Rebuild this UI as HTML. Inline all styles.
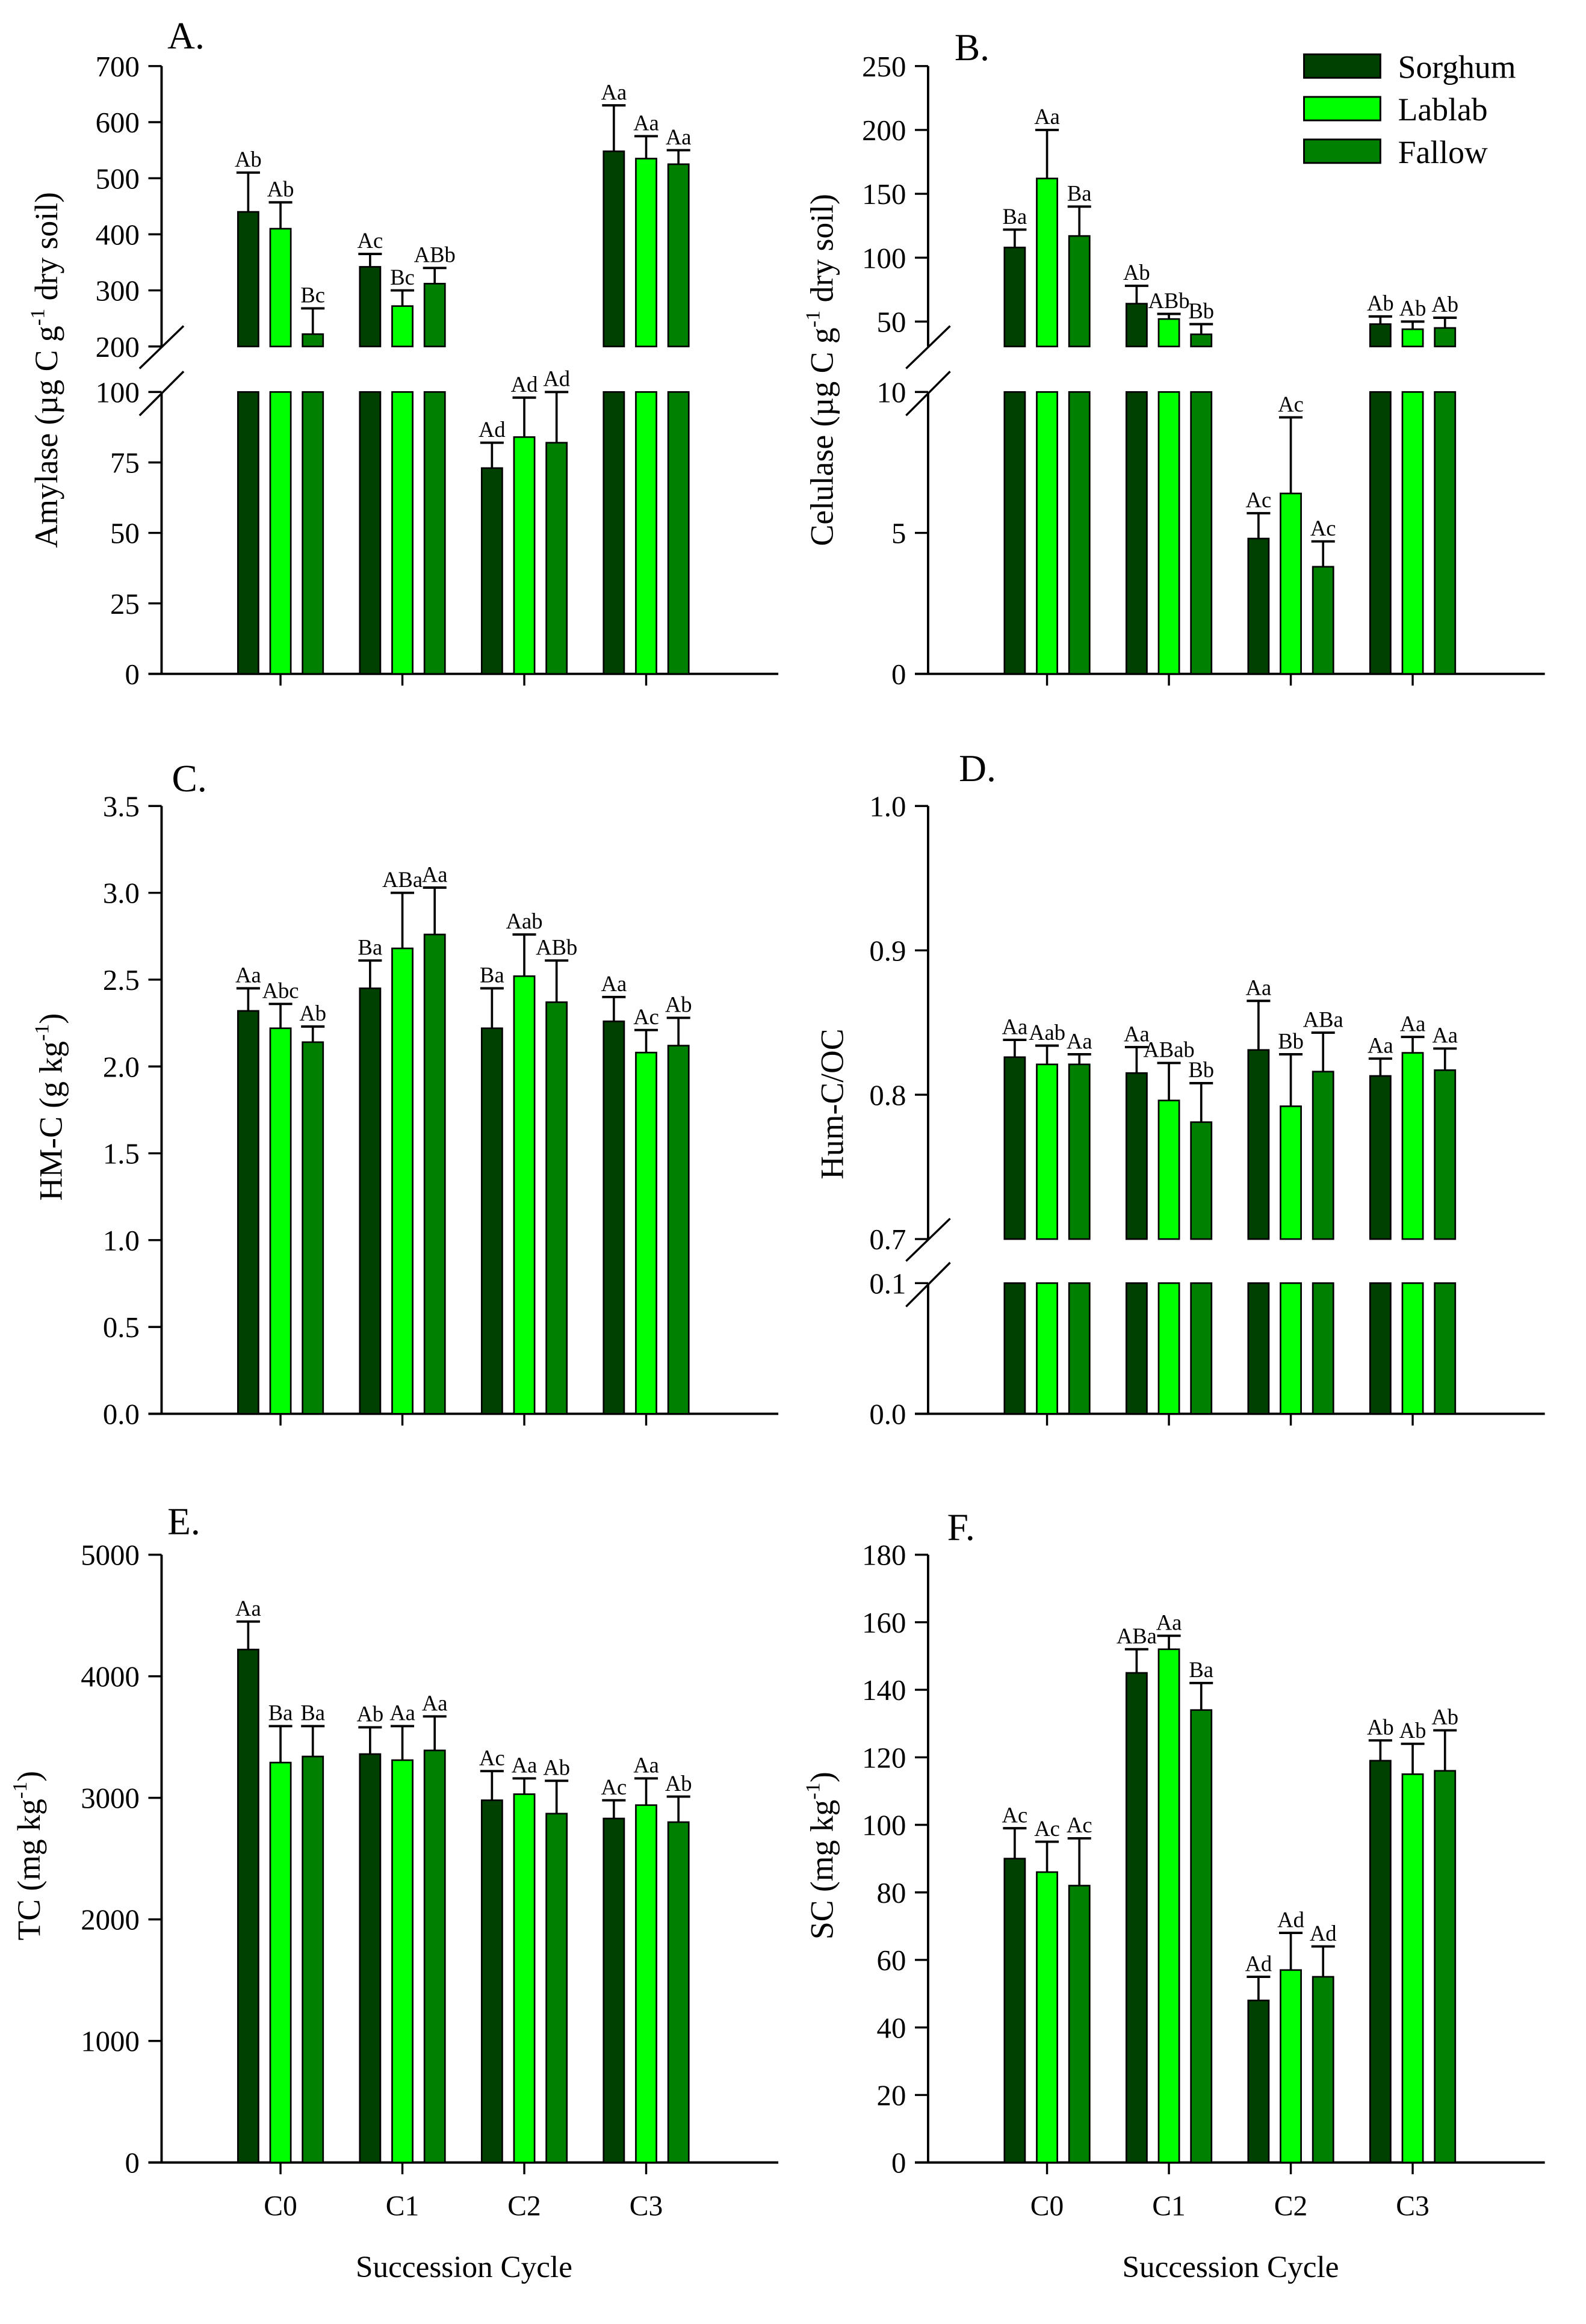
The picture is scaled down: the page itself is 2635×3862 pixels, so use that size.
<!DOCTYPE html>
<html><head><meta charset="utf-8"><style>
html,body{margin:0;padding:0;background:#fff;}
svg{display:block;font-family:"Liberation Serif",serif;}
</style></head><body>
<svg id="fig" xmlns="http://www.w3.org/2000/svg" width="2635" height="3862" viewBox="0 0 1080 1583">
<rect x="0" y="0" width="1080" height="1583" fill="#fff"/>
<g id="legend" font-size="22">
<rect x="888" y="37" width="52" height="16" fill="#004000" stroke="#000" stroke-width="1.2"/>
<text x="952" y="53">Sorghum</text>
<rect x="888" y="66" width="52" height="16" fill="#00ff00" stroke="#000" stroke-width="1.2"/>
<text x="952" y="82">Lablab</text>
<rect x="888" y="95" width="52" height="16" fill="#008000" stroke="#000" stroke-width="1.2"/>
<text x="952" y="111">Fallow</text>
</g>
</svg>
<script>
const categories = ["C0","C1","C2","C3"];
const colors = ["#004000","#00ff00","#008000"];
const seriesNames = ["sorghum","lablab","fallow"];
// Panel A
const aSorghum = [440,342,73,548];
const aLablab = [410,272,84,535];
const aFallow = [222,312,82,525];
const aErrTop = [[510,457,268],[365,300,340],[82,98,100],[630,575,550]];
const aLabels = [["Ab","Ab","Bc"],["Ac","Bc","ABb"],["Ad","Ad","Ad"],["Aa","Aa","Aa"]];
// Panel B
const bSorghum = [108,64,4.8,48];
const bLablab = [162,52,6.4,44];
const bFallow = [117,40,3.8,45];
const bErrTop = [[122,200,140],[78,56,48],[5.7,9.1,4.7],[54,50,53]];
const bLabels = [["Ba","Aa","Ba"],["Ab","ABb","Bb"],["Ac","Ac","Ac"],["Ab","Ab","Ab"]];
// Panel C
const cSorghum = [2.32,2.45,2.22,2.26];
const cLablab = [2.22,2.68,2.52,2.08];
const cFallow = [2.14,2.76,2.37,2.12];
const cErrTop = [[2.45,2.36,2.23],[2.61,3.0,3.03],[2.45,2.76,2.61],[2.40,2.21,2.28]];
const cLabels = [["Aa","Abc","Ab"],["Ba","ABa","Aa"],["Ba","Aab","ABb"],["Aa","Ac","Ab"]];
// Panel D
const dSorghum = [0.826,0.815,0.831,0.813];
const dLablab = [0.821,0.796,0.792,0.829];
const dFallow = [0.821,0.781,0.816,0.817];
const dErrTop = [[0.838,0.834,0.828],[0.833,0.822,0.808],[0.865,0.828,0.843],[0.825,0.840,0.832]];
const dLabels = [["Aa","Aab","Aa"],["Aa","ABab","Bb"],["Aa","Bb","ABa"],["Aa","Aa","Aa"]];
// Panel E
const eSorghum = [4220,3360,2980,2830];
const eLablab = [3290,3310,3030,2940];
const eFallow = [3340,3390,2870,2800];
const eErrTop = [[4450,3590,3590],[3580,3590,3670],[3220,3160,3140],[2980,3160,3010]];
const eLabels = [["Aa","Ba","Ba"],["Ab","Aa","Aa"],["Ac","Aa","Ab"],["Ac","Aa","Ab"]];
// Panel F
const fSorghum = [90,145,48,119];
const fLablab = [86,152,57,115];
const fFallow = [82,134,55,116];
const fErrTop = [[99,95,96],[152,156,142],[55,68,64],[125,124,128]];
const fLabels = [["Ac","Ac","Ac"],["ABa","Aa","Ba"],["Ad","Ad","Ad"],["Ab","Ab","Ab"]];
// Tick labels
const aTicksLow = [0,25,50,75,100];
const aTicksHigh = [200,300,400,500,600,700];
const bTicksLow = [0,5,10];
const bTicksHigh = [50,100,150,200,250];
const cTicks = [0,0.5,1.0,1.5,2.0,2.5,3.0,3.5];
const dTicksLow = [0.0,0.1];
const dTicksHigh = [0.7,0.8,0.9,1.0];
const eTicks = [0,1000,2000,3000,4000,5000];
const fTicks = [0,20,40,60,80,100,120,140,160,180];

const NS="http://www.w3.org/2000/svg";
const svg=document.getElementById('fig');
function el(tag,attrs,parent){const e=document.createElementNS(NS,tag);for(const k in attrs)e.setAttribute(k,attrs[k]);(parent||svg).appendChild(e);return e;}

function panel(cfg){
  const g=el('g',{});
  
  
  const ax=cfg.ax, xEnd=cfg.ax+420;
  const catX=i=>ax+81+i*83;
  function segOf(v){for(const s of cfg.segs){if(v>=s.lo-1e-9&&v<=s.hi+1e-9)return s;}return null;}
  const mapS=(s,v)=>s.y0+(v-s.lo)/(s.hi-s.lo)*(s.y1-s.y0);
  cfg.segs.forEach((s,si)=>{
    const ln=el('line',{x1:ax,x2:ax,y1:s.y0,y2:s.y1,stroke:'#000','stroke-width':1.6},g);
    
    
    s.ticks.forEach(t=>{
      const y=mapS(s,t);
      el('line',{x1:ax-9,x2:ax,y1:y,y2:y,stroke:'#000','stroke-width':1.4},g);
      const tx=el('text',{x:ax-15,y:y+7,'font-size':20,'text-anchor':'end'},g);
      tx.textContent=cfg.fmt(t);
      
      
    });
  });
  if(cfg.segs.length>1){
    const lowTop=cfg.segs[0].y1, hiBot=cfg.segs[1].y0;
    [[lowTop+16,lowTop-14],[hiBot+15,hiBot-14]].forEach(p=>{
      const sl=el('line',{x1:ax-15,y1:p[0],x2:ax+15,y2:p[1],stroke:'#000','stroke-width':1.4},g);
      
      
    });
  }
  const y0=cfg.segs[0].y0;
  const xa=el('line',{x1:ax-9,x2:xEnd,y1:y0,y2:y0,stroke:'#000','stroke-width':1.6},g);
  
  
  categories.forEach((c,i)=>{
    el('line',{x1:catX(i),x2:catX(i),y1:y0,y2:y0+8,stroke:'#000','stroke-width':1.4},g);
    if(cfg.showX){
      const t=el('text',{x:catX(i),y:y0+36,'font-size':19.5,'text-anchor':'middle'},g);
      t.textContent=c;
      
      
    }
  });
  if(cfg.showX){
    const t=el('text',{x:ax+206,y:y0+78,'font-size':21,'text-anchor':'middle'},g);
    t.textContent='Succession Cycle';
    
    
  }
  const series=cfg.series;
  categories.forEach((c,i)=>{
    series.forEach((vals,k)=>{
      const v=vals[i], cx=catX(i)+(k-1)*22, w=14;
      cfg.segs.forEach(s=>{
        if(v<=s.lo)return;
        const top=mapS(s,Math.min(v,s.hi));
        const r=el('rect',{x:cx-w/2,y:top,width:w,height:s.y0-top,fill:colors[k],stroke:'#000','stroke-width':1.1},g);
        
        
      });
      const s=segOf(v), e=cfg.err[i][k], se=segOf(e)||s;
      const yv=mapS(s,v), ye=mapS(se,e);
      el('line',{x1:cx,x2:cx,y1:yv,y2:ye,stroke:'#000','stroke-width':1.5},g);
      const cap=el('line',{x1:cx-8,x2:cx+8,y1:ye,y2:ye,stroke:'#000','stroke-width':1.6},g);
      
      
      const lb=el('text',{x:cx,y:ye-4,'font-size':15,'text-anchor':'middle'},g);
      lb.textContent=cfg.labels[i][k];
      
      
    });
  });
  const pl=el('text',{x:cfg.letter[0],y:cfg.letter[1],'font-size':26},g);
  pl.textContent=cfg.id.toUpperCase()+'.';
  
  
  const yt=el('text',{x:0,y:0,'font-size':22,'text-anchor':'middle',transform:`translate(${cfg.yTitle[0]},${cfg.yTitle[1]}) rotate(-90)`},g);
  
  
  cfg.yText.forEach(p=>{const ts=el('tspan',p[1]?{dy:-9,'font-size':14}:{dy:p[2]||0},yt);ts.textContent=p[0];});
}
const fmt0=t=>String(t), fmt1=t=>t.toFixed(1);
panel({id:'a',ax:110,showX:false,fmt:fmt0,series:[aSorghum,aLablab,aFallow],err:aErrTop,labels:aLabels,
  segs:[{lo:0,hi:100,y0:459,y1:267,ticks:aTicksLow},{lo:200,hi:700,y0:236,y1:45,ticks:aTicksHigh}],
  letter:[114,33],yTitle:[39,252],yText:[["Amylase (µg C g"],["-1",1],[" dry soil)",0,9]]});
panel({id:'b',ax:632,showX:false,fmt:fmt0,series:[bSorghum,bLablab,bFallow],err:bErrTop,labels:bLabels,
  segs:[{lo:0,hi:10,y0:459,y1:267,ticks:bTicksLow},{lo:30.5,hi:250,y0:236,y1:45,ticks:bTicksHigh}],
  letter:[650,41],yTitle:[567,252],yText:[["Celulase (µg C g"],["-1",1],[" dry soil)",0,9]]});
panel({id:'c',ax:110,showX:false,fmt:fmt1,series:[cSorghum,cLablab,cFallow],err:cErrTop,labels:cLabels,
  segs:[{lo:0,hi:3.5,y0:963,y1:549,ticks:cTicks}],
  letter:[117,539],yTitle:[42,754],yText:[["HM-C (g kg"],["-1",1],[")",0,9]]});
panel({id:'d',ax:632,showX:false,fmt:fmt1,series:[dSorghum,dLablab,dFallow],err:dErrTop,labels:dLabels,
  segs:[{lo:0,hi:0.1,y0:963,y1:874,ticks:dTicksLow},{lo:0.7,hi:1.0,y0:844,y1:549,ticks:dTicksHigh}],
  letter:[653,532],yTitle:[574,752],yText:[["Hum-C/OC"]]});
panel({id:'e',ax:110,showX:true,fmt:fmt0,series:[eSorghum,eLablab,eFallow],err:eErrTop,labels:eLabels,
  segs:[{lo:0,hi:5000,y0:1473,y1:1059,ticks:eTicks}],
  letter:[114,1045],yTitle:[27,1264],yText:[["TC (mg kg"],["-1",1],[")",0,9]]});
panel({id:'f',ax:632,showX:true,fmt:fmt0,series:[fSorghum,fLablab,fFallow],err:fErrTop,labels:fLabels,
  segs:[{lo:0,hi:180,y0:1473,y1:1059,ticks:fTicks}],
  letter:[645,1049],yTitle:[567,1264],yText:[["SC (mg kg"],["-1",1],[")",0,9]]});
</script>
</body></html>
